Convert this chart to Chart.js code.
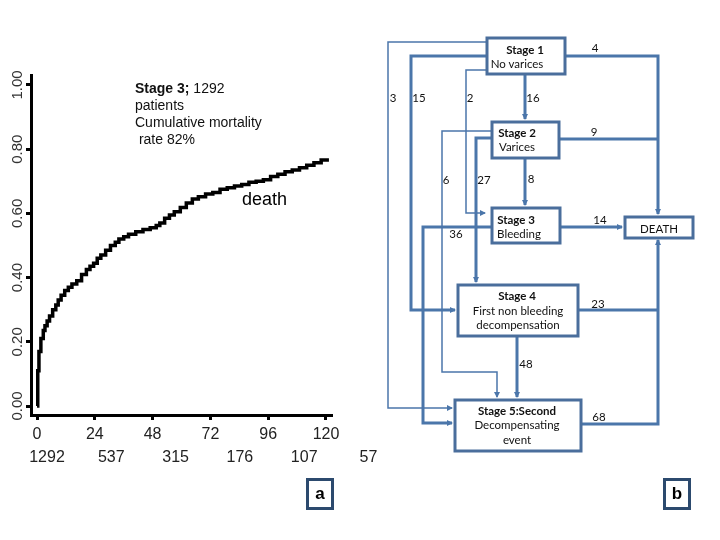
<!DOCTYPE html>
<html>
<head>
<meta charset="utf-8">
<script src="https://cdn.jsdelivr.net/npm/chart.js@4/dist/chart.umd.min.js"></script>
<style>
  body { margin: 0; background: #fff; }
  #wrap { position: relative; width: 720px; height: 540px; }
  #km { position: absolute; left: 0; top: 0; }
  #flow { position: absolute; left: 0; top: 0; }
  #flow text { font-family: Lato, "Open Sans", sans-serif; font-size: 11.5px; fill: #111; }
  #flow .b { font-weight: bold; }
  .tag { position: absolute; top: 478px; width: 22px; height: 26px; border: 3px solid #2c4a6e;
         font: bold 17px "Liberation Sans", Arial, sans-serif; text-align: center; line-height: 26px; }
</style>
</head>
<body>
<div id="wrap">
  <canvas id="km" width="720" height="540"></canvas>
  <svg id="flow" width="720" height="540">
    <defs>
      <marker id="ar" markerWidth="6" markerHeight="6" refX="5" refY="3" orient="auto" markerUnits="userSpaceOnUse">
        <path d="M0,0 L6,3 L0,6 z" fill="#4b76aa"/>
      </marker>
    </defs>
    <g fill="none" stroke="#4b76aa" stroke-width="3">
      <polyline points="565,56 658,56 658,214" marker-end="url(#ar)"/>
      <polyline points="559,139 658,139"/>
      <polyline points="560,227 622,227" marker-end="url(#ar)"/>
      <polyline points="578,310 658,310"/>
      <polyline points="581,424 658,424 658,240" marker-end="url(#ar)"/>
      <polyline points="525,74 525,119" marker-end="url(#ar)"/>
      <polyline points="525,158 525,205" marker-end="url(#ar)"/>
      <polyline points="517,336 517,397" marker-end="url(#ar)"/>
      <polyline points="486,56 411,56 411,310 455,310" marker-end="url(#ar)"/>
      <polyline points="491,138 476,138 476,282" marker-end="url(#ar)"/>
      <polyline points="491,227 423,227 423,423 452,423" marker-end="url(#ar)"/>
    </g>
    <g fill="none" stroke="#4b76aa" stroke-width="1.5">
      <polyline points="486,42 388,42 388,408 452,408" marker-end="url(#ar)"/>
      <polyline points="486,70 466,70 466,213 485,213" marker-end="url(#ar)"/>
      <polyline points="491,131 442,131 442,372 497,372 497,397" marker-end="url(#ar)"/>
    </g>
    <g fill="#fff" stroke="#4a6e9c" stroke-width="3">
      <rect x="487" y="38" width="78" height="36"/>
      <rect x="492" y="122" width="67" height="36"/>
      <rect x="492" y="208" width="68" height="35"/>
      <rect x="625" y="217" width="68" height="21"/>
      <rect x="458" y="285" width="120" height="51"/>
      <rect x="455" y="400" width="126" height="51"/>
    </g>
    <g text-anchor="middle" dominant-baseline="central">
      <text x="525" y="49" class="b">Stage 1</text>
      <text x="517" y="63">No varices</text>
      <text x="517" y="132" class="b">Stage 2</text>
      <text x="517" y="146">Varices</text>
      <text x="516" y="219" class="b">Stage 3</text>
      <text x="519" y="233">Bleeding</text>
      <text x="659" y="228">DEATH</text>
      <text x="517" y="295" class="b">Stage 4</text>
      <text x="518" y="310">First non bleeding</text>
      <text x="518" y="324">decompensation</text>
      <text x="517" y="410" class="b">Stage 5:Second</text>
      <text x="517" y="424">Decompensating</text>
      <text x="517" y="439">event</text>
      <text x="595" y="47">4</text>
      <text x="594" y="131">9</text>
      <text x="600" y="219">14</text>
      <text x="598" y="303">23</text>
      <text x="599" y="416">68</text>
      <text x="533" y="97">16</text>
      <text x="531" y="178">8</text>
      <text x="526" y="363">48</text>
      <text x="393" y="97">3</text>
      <text x="419" y="97">15</text>
      <text x="470" y="97">2</text>
      <text x="446" y="179">6</text>
      <text x="484" y="179">27</text>
      <text x="456" y="233">36</text>
    </g>
  </svg>
  <div class="tag" style="left:306px;">a</div>
  <div class="tag" style="left:663px;">b</div>
</div>
<script>
const months = [0, 0.3, 0.8, 1.6, 2.6, 3.3, 4.2, 5.2, 6.5, 7.8, 8.8, 10, 11.5, 13, 14.5, 16.5, 18.5,
  20.5, 22, 23.5, 25, 26.5, 28.5, 30.5, 32.5, 34, 36, 38, 41, 44, 47, 49.5, 51, 53, 55, 57, 59.5,
  62, 64.5, 67, 70, 73, 76, 79, 82, 85, 88, 91, 94, 97, 100, 103, 106, 109, 112, 115, 118, 120.5];
const mortality = [0, 0.11, 0.17, 0.21, 0.235, 0.25, 0.265, 0.28, 0.30, 0.315, 0.33, 0.345, 0.36,
  0.37, 0.38, 0.39, 0.41, 0.425, 0.435, 0.445, 0.46, 0.47, 0.485, 0.50, 0.51, 0.52, 0.527, 0.535,
  0.543, 0.55, 0.555, 0.562, 0.57, 0.585, 0.595, 0.605, 0.618, 0.632, 0.645, 0.652, 0.66, 0.665,
  0.675, 0.68, 0.685, 0.69, 0.697, 0.70, 0.705, 0.715, 0.722, 0.73, 0.735, 0.742, 0.75, 0.758,
  0.766, 0.772];
const xTicks = [0, 24, 48, 72, 96, 120];
const yTicks = [0, 0.2, 0.4, 0.6, 0.8, 1.0];
const yTickLabels = ['0.00', '0.20', '0.40', '0.60', '0.80', '1.00'];
const atRisk = [1292, 537, 315, 176, 107, 57];

const points = months.map((m, i) => ({ x: m, y: mortality[i] }));

// rotated y labels, numbers at risk and the notes
const extraText = {
  id: 'extraText',
  afterDraw(chart) {
    const c = chart.ctx;
    const xs = chart.scales.x, ys = chart.scales.y;
    c.save();
    c.fillStyle = '#333';
    c.font = '15px "Liberation Sans", Arial, sans-serif';
    c.textAlign = 'center';
    c.textBaseline = 'middle';
    yTicks.forEach((v, i) => {
      c.save();
      c.translate(18, ys.getPixelForValue(v));
      c.rotate(-Math.PI / 2);
      c.fillText(yTickLabels[i], 0, 0);
      c.restore();
    });
    c.fillStyle = '#222';
    c.font = '16px "Liberation Sans", Arial, sans-serif';
    atRisk.forEach((n, i) => {
      c.fillText(String(n), xs.getPixelForValue(xTicks[i] !== undefined ? xTicks[i] : i * 24) + 10 + i * 6.5, 458);
    });
    c.textAlign = 'left';
    c.fillStyle = '#111';
    c.font = 'bold 14px "Liberation Sans", Arial, sans-serif';
    c.fillText('Stage 3;', 135, 89);
    const w = c.measureText('Stage 3; ').width;
    c.font = '14px "Liberation Sans", Arial, sans-serif';
    c.fillText('1292', 135 + w, 89);
    c.fillText('patients', 135, 106);
    c.fillText('Cumulative mortality', 135, 123);
    c.fillText(' rate 82%', 135, 140);
    c.font = '18px "Liberation Sans", Arial, sans-serif';
    c.fillStyle = '#000';
    c.fillText('death', 242, 200);
    c.restore();
  }
};

new Chart(document.getElementById('km'), {
  type: 'line',
  data: {
    datasets: [{
      data: points,
      borderColor: '#000',
      borderWidth: 3.5,
      pointRadius: 0,
      stepped: true,
      fill: false
    }]
  },
  options: {
    responsive: false,
    animation: false,
    layout: { padding: { left: 0, top: 75, right: 388, bottom: 0 } },
    plugins: { legend: { display: false }, tooltip: { enabled: false } },
    scales: {
      x: {
        type: 'linear',
        min: -2.5,
        max: 122.5,
        afterBuildTicks: s => { s.ticks = xTicks.map(v => ({ value: v })); },
        afterFit: s => { s.height = 125; },
        grid: { drawOnChartArea: false, tickLength: 5, tickWidth: 3, tickColor: '#000' },
        border: { color: '#000', width: 3 },
        ticks: { color: '#222', padding: 5, maxRotation: 0, font: { size: 16, family: '"Liberation Sans", Arial, sans-serif' } }
      },
      y: {
        min: -0.028,
        max: 1.031,
        afterBuildTicks: s => { s.ticks = yTicks.map(v => ({ value: v })); },
        afterFit: s => { s.width = 31; },
        grid: { drawOnChartArea: false, tickLength: 5, tickWidth: 3, tickColor: '#000' },
        border: { color: '#000', width: 3 },
        ticks: { display: false }
      }
    }
  },
  plugins: [extraText]
});
</script>
</body>
</html>
